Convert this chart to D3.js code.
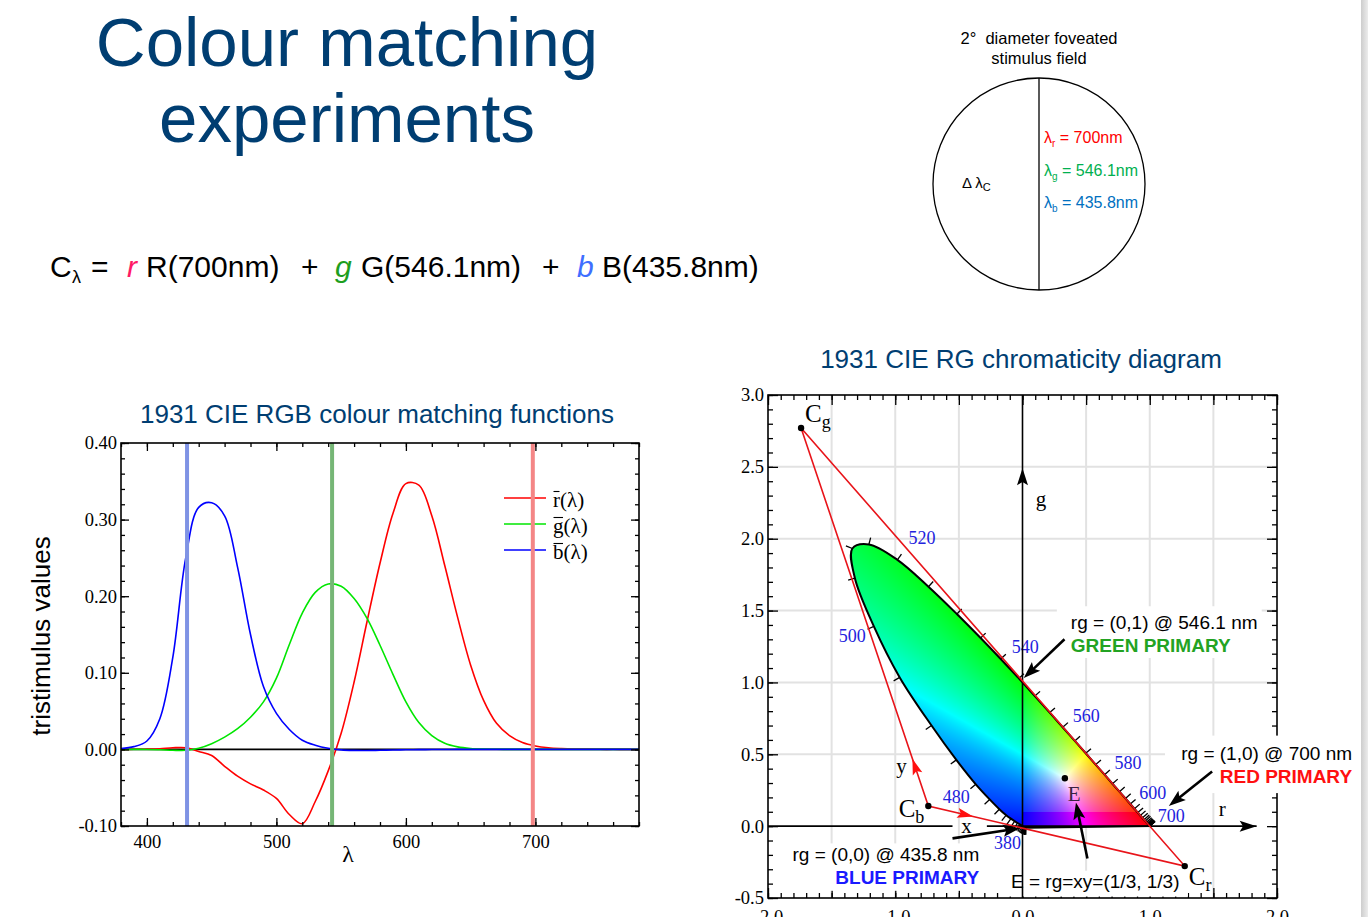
<!DOCTYPE html>
<html>
<head>
<meta charset="utf-8">
<script src="https://cdn.jsdelivr.net/npm/d3@7"></script>
<style>
  body { margin: 0; background: #fff; }
  svg { display: block; }
  text { white-space: pre; }
</style>
</head>
<body>
<svg id="slide" width="1368" height="917"></svg>
<script>
// CIE 1931 RGB colour matching functions (10 nm steps)
const wavelengths = [380, 390, 400, 410, 420, 430, 440, 450, 460, 470, 480, 490, 500, 510, 520, 530, 540, 550, 560, 570,
  580, 590, 600, 610, 620, 630, 640, 650, 660, 670, 680, 690, 700, 710, 720, 730, 740, 750, 760, 770, 780];
const rBar = [0, 0.0001, 0.0003, 0.0008, 0.0021, 0.0022, -0.0026, -0.008, -0.022, -0.035, -0.045, -0.053, -0.064, -0.085,
  -0.097, -0.068, -0.028, 0.021, 0.088, 0.167, 0.243, 0.308, 0.347, 0.345, 0.305, 0.240, 0.172, 0.110, 0.064, 0.034,
  0.018, 0.009, 0.0045, 0.0022, 0.0011, 0.0005, 0.0003, 0.0001, 0.0001, 0, 0];
const gBar = [0, 0, -0.0001, -0.0004, -0.0011, -0.0012, 0.0015, 0.0075, 0.016, 0.027, 0.042, 0.062, 0.093, 0.137, 0.178,
  0.205, 0.216, 0.213, 0.197, 0.171, 0.136, 0.098, 0.062, 0.035, 0.018, 0.008, 0.0033, 0.0012, 0.0004, 0.0001,
  0, 0, 0, 0, 0, 0, 0, 0, 0, 0, 0];
const bBar = [0.0012, 0.0036, 0.011, 0.040, 0.120, 0.250, 0.316, 0.322, 0.305, 0.238, 0.150, 0.082, 0.047, 0.026, 0.012,
  0.0055, 0.0015, -0.0006, -0.0013, -0.0014, -0.0011, -0.0008, -0.0005, -0.0003, -0.0002, -0.0001,
  0, 0, 0, 0, 0, 0, 0, 0, 0, 0, 0, 0, 0, 0, 0];
const primaryWl = [431, 543, 698];
const seriesNames = ["r", "g", "b"];

// spectral locus in rg chromaticity (5 nm steps)
const locusWl = [380, 385, 390, 395, 400, 405, 410, 415, 420, 425, 430, 435, 440, 445, 450, 455, 460, 465, 470, 475,
  480, 485, 490, 495, 500, 505, 510, 515, 520, 525, 530, 535, 540, 545, 550, 555, 560, 565, 570, 575,
  580, 585, 590, 595, 600, 605, 610, 615, 620, 625, 630, 635, 640, 645, 650, 655, 660, 665, 670, 675,
  680, 685, 690, 695, 700];
const locusR = [0.0272, 0.0268, 0.0263, 0.0256, 0.0247, 0.0237, 0.0224, 0.0207, 0.0181, 0.0142, 0.0088, 0.0012,
  -0.0084, -0.0213, -0.039, -0.0618, -0.091, -0.128, -0.182, -0.258, -0.367, -0.52, -0.715, -0.965, -1.168,
  -1.317, -1.337, -1.207, -0.983, -0.739, -0.516, -0.329, -0.171, -0.029, 0.097, 0.214, 0.316, 0.411, 0.497,
  0.575, 0.645, 0.707, 0.762, 0.809, 0.847, 0.88, 0.906, 0.926, 0.943, 0.955, 0.965, 0.973, 0.98, 0.985, 0.989,
  0.992, 0.994, 0.9955, 0.997, 0.998, 0.9985, 0.999, 0.9995, 0.9998, 1.0];
const locusG = [-0.0115, -0.0114, -0.0114, -0.0114, -0.0112, -0.0111, -0.0109, -0.0104, -0.0094, -0.0076, -0.0048,
  -0.0007, 0.0048, 0.012, 0.022, 0.0345, 0.052, 0.0762, 0.118, 0.186, 0.291, 0.461, 0.7, 1.035, 1.39, 1.725,
  1.932, 1.96, 1.853, 1.666, 1.476, 1.309, 1.163, 1.028, 0.905, 0.79, 0.688, 0.593, 0.507, 0.428, 0.358, 0.295,
  0.24, 0.193, 0.154, 0.121, 0.095, 0.074, 0.058, 0.045, 0.036, 0.027, 0.02, 0.015, 0.011, 0.008, 0.006, 0.0045,
  0.003, 0.002, 0.0015, 0.001, 0.0005, 0.0002, 0];
const locusLabels = [380, 480, 500, 520, 540, 560, 580, 600, 700];

// primaries of the xyz system and the equal energy point
const cNames = ["g", "b", "r"];
const cR = [-1.74, -0.74, 1.275];
const cG = [2.77, 0.14, -0.278];
const eR = 0.333, eG = 0.333;

const svg = d3.select("#slide");
const navy = "#003e72";
const sans = "'Liberation Sans', Arial, sans-serif";
const serif = "'Liberation Serif', 'Times New Roman', serif";
const seriesColor = { r: "#ff0000", g: "#00e600", b: "#0000ff" };
const primaryColor = ["#7f93e4", "#76b676", "#f48686"];

svg.append("rect").attr("width", 1368).attr("height", 917).attr("fill", "#fff");
const grad = svg.append("defs").append("linearGradient").attr("id", "edge");
grad.append("stop").attr("offset", 0).attr("stop-color", "#cdcdcd");
grad.append("stop").attr("offset", 1).attr("stop-color", "#ececec");
svg.append("rect").attr("x", 1361).attr("width", 7).attr("height", 917).attr("fill", "url(#edge)");

// ---- headings
svg.append("text").attr("x", 347).attr("y", 66).attr("text-anchor", "middle")
  .attr("font-family", sans).attr("font-size", 69).attr("fill", navy).text("Colour matching");
svg.append("text").attr("x", 347).attr("y", 142).attr("text-anchor", "middle")
  .attr("font-family", sans).attr("font-size", 69).attr("fill", navy).text("experiments");

const formula = [
  { x: 50, t: "C" }, { x: 72, t: "λ", sub: true }, { x: 91, t: "=" },
  { x: 127, t: "r", c: "#ff1a66", it: true }, { x: 146, t: "R(700nm)" }, { x: 301, t: "+" },
  { x: 335, t: "g", c: "#1e9e1e", it: true }, { x: 361, t: "G(546.1nm)" }, { x: 542, t: "+" },
  { x: 577, t: "b", c: "#3f6fff", it: true }, { x: 602, t: "B(435.8nm)" }
];
svg.append("g").attr("font-family", sans).attr("font-size", 30)
  .selectAll("text").data(formula).join("text")
  .attr("x", (d) => d.x).attr("y", (d) => (d.sub ? 283 : 277))
  .attr("font-size", (d) => (d.sub ? 18 : null))
  .attr("font-style", (d) => (d.it ? "italic" : null))
  .attr("fill", (d) => d.c || "#000")
  .text((d) => d.t);

// ---- stimulus field
const field = svg.append("g").attr("font-family", sans).attr("font-size", 16.5);
field.append("text").attr("x", 1039).attr("y", 44).attr("text-anchor", "middle").text("2°  diameter foveated");
field.append("text").attr("x", 1039).attr("y", 64).attr("text-anchor", "middle").text("stimulus field");
field.append("circle").attr("cx", 1039).attr("cy", 184).attr("r", 106)
  .attr("fill", "none").attr("stroke", "#000").attr("stroke-width", 1.3);
field.append("line").attr("x1", 1039).attr("x2", 1039).attr("y1", 78).attr("y2", 290)
  .attr("stroke", "#000").attr("stroke-width", 1.3);
const dl = field.append("text").attr("x", 962).attr("y", 188).attr("font-size", 15);
dl.append("tspan").text("Δ λ");
dl.append("tspan").attr("font-size", 11).attr("dy", 3).text("C");
const fieldRows = [["r", " = 700nm", "#ff0000"], ["g", " = 546.1nm", "#00b050"], ["b", " = 435.8nm", "#0070c0"]];
fieldRows.forEach(([s, v, c], i) => {
  const t = field.append("text").attr("x", 1044).attr("y", 143 + i * 32.5).attr("font-size", 16).attr("fill", c);
  t.append("tspan").text("λ");
  t.append("tspan").attr("font-size", 10).attr("dy", 4).text(s);
  t.append("tspan").attr("dy", -4).text(v);
});

// inward ticks on all four sides of a plot frame
function boxAxes(g, x, y, o) {
  const [xa, xb] = x.range(), [yb, ya] = y.range();
  const sides = [
    [d3.axisBottom(x), 0, yb, o.xMajor, o.xMinor, o.fmtX, o.padX],
    [d3.axisTop(x), 0, ya, o.xMajor, o.xMinor, null, 0],
    [d3.axisLeft(y), xa, 0, o.yMajor, o.yMinor, o.fmtY, o.padY],
    [d3.axisRight(y), xb, 0, o.yMajor, o.yMinor, null, 0]
  ];
  sides.forEach(([ax, tx, ty, maj, min, fmt, pad]) => {
    g.append("g").attr("transform", `translate(${tx},${ty})`)
      .call(ax.tickValues(min).tickSize(-o.small).tickFormat(() => ""))
      .call((s) => s.select(".domain").remove());
    g.append("g").attr("transform", `translate(${tx},${ty})`)
      .call(ax.tickValues(maj).tickSize(-o.big).tickPadding(pad).tickFormat(fmt || (() => "")))
      .call((s) => s.select(".domain").remove())
      .call((s) => s.selectAll("text").attr("font-family", serif).attr("font-size", o.font).attr("fill", "#000"));
  });
  g.selectAll(".tick line").attr("stroke", "#000").attr("stroke-width", 1.3);
  g.append("rect").attr("x", xa).attr("y", ya).attr("width", xb - xa).attr("height", yb - ya)
    .attr("fill", "none").attr("stroke", "#000").attr("stroke-width", 1.6);
}

// ---- left: colour matching functions
const xL = d3.scaleLinear().domain([380, 780]).range([121, 639]);
const yL = d3.scaleLinear().domain([-0.1, 0.4]).range([826, 443]);
const cmf = svg.append("g");

svg.append("text").attr("x", 377).attr("y", 423).attr("text-anchor", "middle")
  .attr("font-family", sans).attr("font-size", 26).attr("fill", navy)
  .text("1931 CIE RGB colour matching functions");
svg.append("text").attr("transform", "translate(50,636) rotate(-90)").attr("text-anchor", "middle")
  .attr("font-family", sans).attr("font-size", 26).text("tristimulus values");

cmf.append("line").attr("x1", xL(380)).attr("x2", xL(780)).attr("y1", yL(0)).attr("y2", yL(0))
  .attr("stroke", "#000").attr("stroke-width", 1.6);

const series = { r: rBar, g: gBar, b: bBar };
const cmfLine = d3.line().x((d, i) => xL(wavelengths[i])).y((d) => yL(d)).curve(d3.curveCatmullRom);
seriesNames.forEach((k) => {
  cmf.append("path").attr("d", cmfLine(series[k])).attr("fill", "none")
    .attr("stroke", seriesColor[k]).attr("stroke-width", 1.6);
});

const legend = cmf.append("g").attr("font-family", serif).attr("font-size", 21);
seriesNames.forEach((k, i) => {
  const y = 498 + i * 26;
  legend.append("line").attr("x1", 504).attr("x2", 546).attr("y1", y).attr("y2", y)
    .attr("stroke", seriesColor[k]).attr("stroke-width", 1.6);
  const t = legend.append("text").attr("x", 553).attr("y", y + 8.5);
  const letter = t.append("tspan").text(k);
  t.append("tspan").text("(λ)");
  const w = letter.node().getComputedTextLength();
  legend.append("line").attr("x1", 553.5).attr("x2", 553 + w - 0.5).attr("y1", y - 6.5).attr("y2", y - 6.5)
    .attr("stroke", "#000").attr("stroke-width", 1.1);
});

cmf.selectAll(".prim").data(primaryWl).join("line").attr("class", "prim")
  .attr("x1", (d) => xL(d)).attr("x2", (d) => xL(d))
  .attr("y1", yL(0.4)).attr("y2", yL(-0.1))
  .attr("stroke", (d, i) => primaryColor[i]).attr("stroke-width", 4);

boxAxes(cmf, xL, yL, {
  xMajor: [400, 500, 600, 700], xMinor: d3.range(380, 781, 20),
  yMajor: [-0.1, 0, 0.1, 0.2, 0.3, 0.4], yMinor: d3.range(-0.1, 0.401, 0.02),
  fmtX: (d) => d, fmtY: (d) => d.toFixed(2), big: 8, small: 4, font: 18.5, padX: 9, padY: 4
});
cmf.append("text").attr("x", 348).attr("y", 862).attr("text-anchor", "middle")
  .attr("font-family", serif).attr("font-size", 24).text("λ");

// ---- right: rg chromaticity diagram
const xR = d3.scaleLinear().domain([-2, 2]).range([768, 1277]);
const yR = d3.scaleLinear().domain([-0.5, 3]).range([898, 395]);
const rg = svg.append("g");

svg.append("text").attr("x", 1021).attr("y", 368).attr("text-anchor", "middle")
  .attr("font-family", sans).attr("font-size", 26).attr("fill", navy)
  .text("1931 CIE RG chromaticity diagram");

const gridR = [-1.5, -1, -0.5, 0.5, 1, 1.5];
const gridG = [0.5, 1, 1.5, 2, 2.5];
rg.selectAll(".gv").data(gridR).join("line").attr("class", "gv")
  .attr("x1", (d) => xR(d)).attr("x2", (d) => xR(d)).attr("y1", yR(-0.5)).attr("y2", yR(3))
  .attr("stroke", "#e2e2e2").attr("stroke-width", 2);
rg.selectAll(".gh").data(gridG).join("line").attr("class", "gh")
  .attr("x1", xR(-2)).attr("x2", xR(2)).attr("y1", (d) => yR(d)).attr("y2", (d) => yR(d))
  .attr("stroke", "#e2e2e2").attr("stroke-width", 2);

boxAxes(rg, xR, yR, {
  xMajor: d3.range(-2, 2.01, 0.5), xMinor: d3.range(-2, 2.01, 0.1),
  yMajor: d3.range(-0.5, 3.01, 0.5), yMinor: d3.range(-0.5, 3.01, 0.1),
  fmtX: (d) => (Math.abs(d % 1) < 1e-9 ? d.toFixed(1) : ""), fmtY: (d) => d.toFixed(1),
  big: 10, small: 5, font: 18.5, padX: 12, padY: 4
});

// white boxes behind annotations
const boxes = [[0.27, 1.88, 1.53, 1.17], [1.12, 2.64, 0.63, 0.23], [-1.87, -0.3, -0.12, -0.45], [-0.13, 1.3, -0.31, -0.49]];
rg.selectAll(".wb").data(boxes).join("rect").attr("class", "wb")
  .attr("x", (d) => xR(d[0])).attr("y", (d) => yR(d[2]))
  .attr("width", (d) => xR(d[1]) - xR(d[0])).attr("height", (d) => yR(d[3]) - yR(d[2]))
  .attr("fill", "#fff");

// locus fill
const locus = locusWl.map((w, i) => [xR(locusR[i]), yR(locusG[i])]);
const locusPath = d3.line().curve(d3.curveCatmullRom)(locus) + "Z";
svg.select("defs").append("clipPath").attr("id", "locusClip").append("path").attr("d", locusPath);

const [px0, px1] = xR.range(), [py1, py0] = yR.range();
const cw = Math.round(px1 - px0), ch = Math.round(py1 - py0);
const canvas = document.createElement("canvas");
canvas.width = cw; canvas.height = ch;
const ctx = canvas.getContext("2d");
const img = ctx.createImageData(cw, ch);
for (let j = 0; j < ch; j++) {
  for (let i = 0; i < cw; i++) {
    const r = xR.invert(px0 + i + 0.5), g = yR.invert(py0 + j + 0.5), b = 1 - r - g;
    const c = [Math.max(r, 0), Math.max(g, 0), Math.max(b, 0)];
    if (r > 0 && g < 0.1) c[1] = 0;
    const m = Math.max(c[0], c[1], c[2]) || 1;
    const k = 4 * (j * cw + i);
    for (let q = 0; q < 3; q++) img.data[k + q] = Math.round(255 * Math.pow(c[q] / m, 0.75));
    img.data[k + 3] = 255;
  }
}
ctx.putImageData(img, 0, 0);
rg.append("image").attr("href", canvas.toDataURL()).attr("x", px0).attr("y", py0)
  .attr("width", cw).attr("height", ch).attr("preserveAspectRatio", "none")
  .attr("clip-path", "url(#locusClip)");
rg.append("path").attr("d", locusPath).attr("fill", "none").attr("stroke", "#000").attr("stroke-width", 2);

// wavelength ticks, pointing outwards
const cx = d3.mean(locus, (p) => p[0]), cy = d3.mean(locus, (p) => p[1]);
locus.forEach((p, i) => {
  const a = locus[Math.max(i - 1, 0)], b = locus[Math.min(i + 1, locus.length - 1)];
  let nx = -(b[1] - a[1]), ny = b[0] - a[0];
  const n = Math.hypot(nx, ny) || 1;
  nx /= n; ny /= n;
  if (nx * (p[0] - cx) + ny * (p[1] - cy) < 0) { nx = -nx; ny = -ny; }
  rg.append("line").attr("x1", p[0]).attr("y1", p[1]).attr("x2", p[0] + nx * 7).attr("y2", p[1] + ny * 7)
    .attr("stroke", "#000").attr("stroke-width", 1.3);
});

const labelOffset = { 380: [-5, 21, "end"], 480: [-6, 19, "end"], 500: [-8, 16, "end"], 520: [11, -16, "start"],
  540: [11, -6, "start"], 560: [10, -5, "start"], 580: [10, -6, "start"], 600: [9, -5, "start"], 700: [8, -4, "start"] };
rg.selectAll(".wl").data(locusLabels).join("text").attr("class", "wl")
  .attr("x", (d) => locus[locusWl.indexOf(d)][0] + labelOffset[d][0])
  .attr("y", (d) => locus[locusWl.indexOf(d)][1] + labelOffset[d][1])
  .attr("text-anchor", (d) => labelOffset[d][2])
  .attr("font-family", serif).attr("font-size", 18).attr("fill", "#2222dd").text((d) => d);

function arrowHead(sel, tx, ty, ux, uy, len, wid, color) {
  const n = Math.hypot(ux, uy);
  ux /= n; uy /= n;
  const bx = tx - ux * len, by = ty - uy * len, mx = tx - ux * len * 0.8, my = ty - uy * len * 0.8;
  const px = -uy * wid / 2, py = ux * wid / 2;
  sel.append("path").attr("d", `M${tx},${ty}L${bx + px},${by + py}L${mx},${my}L${bx - px},${by - py}Z`).attr("fill", color);
}

// r and g axes
rg.append("line").attr("x1", xR(-2)).attr("x2", xR(-0.55)).attr("y1", yR(0)).attr("y2", yR(0))
  .attr("stroke", "#000").attr("stroke-width", 1.6);
rg.append("line").attr("x1", xR(-0.28)).attr("x2", xR(1.84)).attr("y1", yR(0)).attr("y2", yR(0))
  .attr("stroke", "#000").attr("stroke-width", 1.6);
rg.append("line").attr("x1", xR(0)).attr("x2", xR(0)).attr("y1", yR(-0.5)).attr("y2", yR(3))
  .attr("stroke", "#000").attr("stroke-width", 1.6);
arrowHead(rg, xR(1.84), yR(0), 1, 0, 17, 11, "#000");
arrowHead(rg, xR(0), yR(2.49), 0, -1, 17, 11, "#000");
rg.append("text").attr("x", xR(0.145)).attr("y", yR(2.23)).attr("text-anchor", "middle")
  .attr("font-family", serif).attr("font-size", 21).text("g");
rg.append("text").attr("x", xR(1.57)).attr("y", yR(0.07)).attr("text-anchor", "middle")
  .attr("font-family", serif).attr("font-size", 21).text("r");

// xyz primaries triangle
const cPts = cNames.map((k, i) => [xR(cR[i]), yR(cG[i])]);
rg.append("path").attr("d", d3.line()(cPts) + "Z").attr("fill", "none")
  .attr("stroke", "#e8141a").attr("stroke-width", 1.6);
const along = (a, b, t) => [a[0] + (b[0] - a[0]) * t, a[1] + (b[1] - a[1]) * t];
const [cg, cb, cr] = cPts;
const ty = along(cb, cg, 0.125), tx = along(cb, cr, 0.175);
arrowHead(rg, ty[0], ty[1], cg[0] - cb[0], cg[1] - cb[1], 16, 10, "#ff1010");
arrowHead(rg, tx[0], tx[1], cr[0] - cb[0], cr[1] - cb[1], 16, 10, "#ff1010");
rg.append("text").attr("x", xR(-0.95)).attr("y", yR(0.37)).attr("text-anchor", "middle")
  .attr("font-family", serif).attr("font-size", 21).text("y");
rg.append("text").attr("x", xR(-0.44)).attr("y", yR(-0.05)).attr("text-anchor", "middle")
  .attr("font-family", serif).attr("font-size", 21).text("x");

rg.selectAll(".cdot").data(cPts.concat([[xR(eR), yR(eG)]])).join("circle").attr("class", "cdot")
  .attr("cx", (d) => d[0]).attr("cy", (d) => d[1]).attr("r", 3.2).attr("fill", "#000");
const cOffset = { g: [4, -6, "start"], b: [-4, 11, "end"], r: [4, 19, "start"] };
cNames.forEach((k, i) => {
  const t = rg.append("text").attr("x", cPts[i][0] + cOffset[k][0]).attr("y", cPts[i][1] + cOffset[k][1])
    .attr("text-anchor", cOffset[k][2]).attr("font-family", serif).attr("font-size", 25);
  t.append("tspan").text("C");
  t.append("tspan").attr("font-size", 18).attr("dy", 6).text(k);
});
rg.append("text").attr("x", xR(eR) + 3).attr("y", yR(eG) + 23).attr("font-family", serif)
  .attr("font-size", 21).attr("fill", "#3a2340").text("E");

// annotations
const notes = rg.append("g").attr("font-family", sans).attr("font-size", 19);
notes.append("text").attr("x", xR(0.38)).attr("y", yR(1.37)).text("rg = (0,1) @ 546.1 nm");
notes.append("text").attr("x", xR(0.38)).attr("y", yR(1.37) + 23).attr("font-weight", "bold")
  .attr("fill", "#23a323").text("GREEN PRIMARY");
notes.append("text").attr("x", xR(2.59)).attr("y", yR(0.46)).attr("text-anchor", "end").text("rg = (1,0) @ 700 nm");
notes.append("text").attr("x", xR(2.59)).attr("y", yR(0.46) + 23).attr("text-anchor", "end")
  .attr("font-weight", "bold").attr("fill", "#ff1010").text("RED PRIMARY");
notes.append("text").attr("x", xR(-0.34)).attr("y", yR(-0.245)).attr("text-anchor", "end").text("rg = (0,0) @ 435.8 nm");
notes.append("text").attr("x", xR(-0.34)).attr("y", yR(-0.245) + 23).attr("text-anchor", "end")
  .attr("font-weight", "bold").attr("fill", "#1a1aff").text("BLUE PRIMARY");
notes.append("text").attr("x", xR(-0.09)).attr("y", yR(-0.43)).text("E = rg=xy=(1/3, 1/3)");

const pointers = [[[0.33, 1.30], [0.01, 1.03]], [[1.49, 0.38], [1.15, 0.14]],
  [[-0.55, -0.085], [-0.02, -0.015]], [[0.51, -0.225], [0.42, 0.165]]];
pointers.forEach(([s, e]) => {
  const x1 = xR(s[0]), y1 = yR(s[1]), x2 = xR(e[0]), y2 = yR(e[1]);
  const ux = x2 - x1, uy = y2 - y1, n = Math.hypot(ux, uy);
  rg.append("line").attr("x1", x1).attr("y1", y1).attr("x2", x2 - ux / n * 12).attr("y2", y2 - uy / n * 12)
    .attr("stroke", "#000").attr("stroke-width", 2.6);
  arrowHead(rg, x2, y2, ux, uy, 17, 12, "#000");
});
</script>
</body>
</html>
